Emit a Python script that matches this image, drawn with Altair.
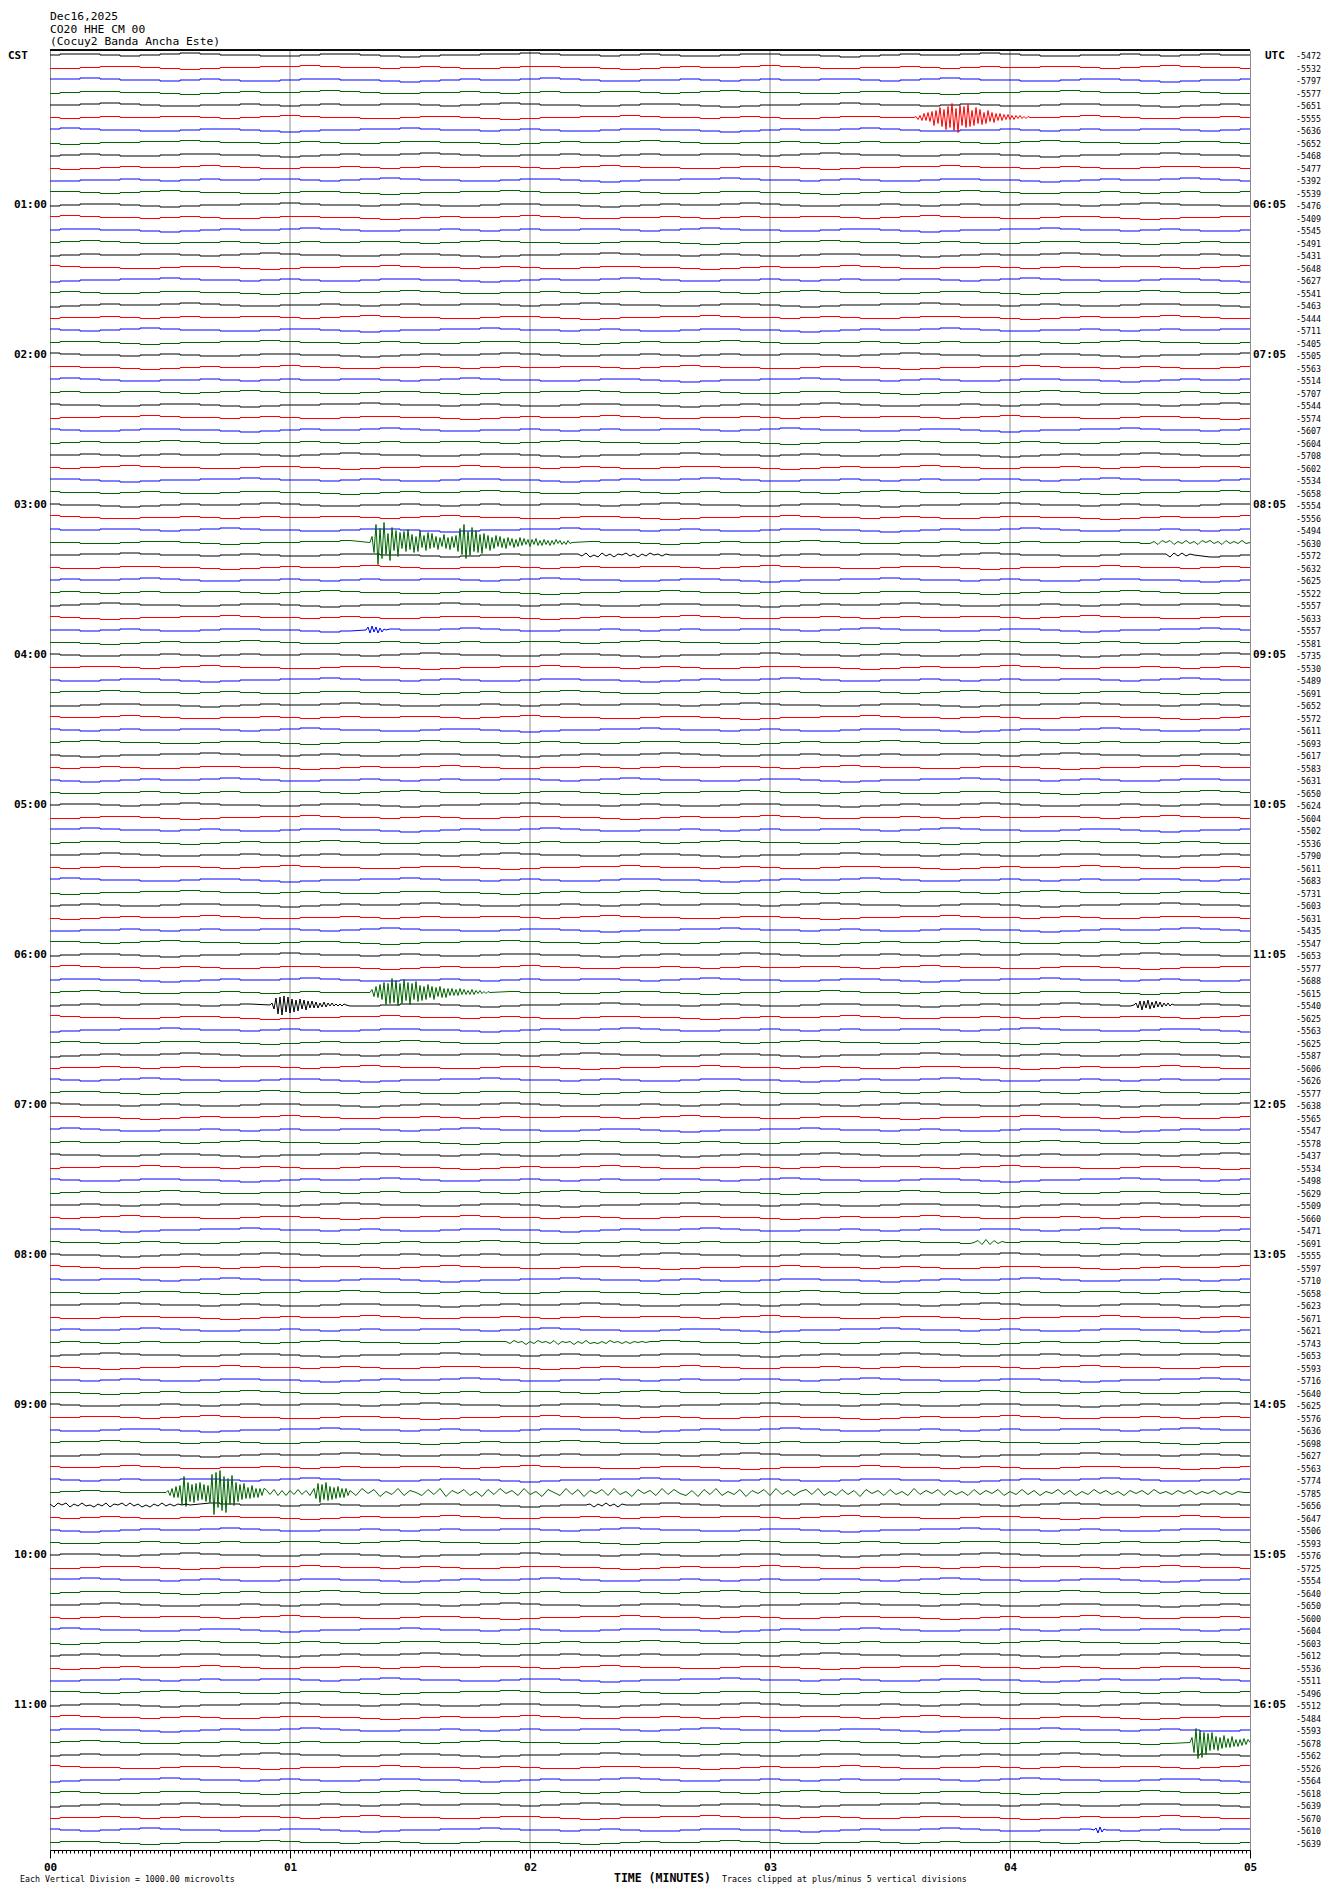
import altair as alt
import pandas as pd

# ---------------- data ----------------
header_lines = ["Dec16,2025", "CO20 HHE CM 00", "(Cocuy2 Banda Ancha Este)"]
cst_labels = ["01:00", "02:00", "03:00", "04:00", "05:00", "06:00",
              "07:00", "08:00", "09:00", "10:00", "11:00"]
utc_labels = ["06:05", "07:05", "08:05", "09:05", "10:05", "11:05",
              "12:05", "13:05", "14:05", "15:05", "16:05"]
offset_labels = [
    -5472, -5532, -5797, -5577, -5651, -5555, -5636, -5652, -5468, -5477, -5392, -5539,
    -5476, -5409, -5545, -5491, -5431, -5648, -5627, -5541, -5463, -5444, -5711, -5405,
    -5505, -5563, -5514, -5707, -5544, -5574, -5607, -5604, -5708, -5602, -5534, -5658,
    -5554, -5556, -5494, -5630, -5572, -5632, -5625, -5522, -5557, -5633, -5557, -5581,
    -5735, -5530, -5489, -5691, -5652, -5572, -5611, -5693, -5617, -5583, -5631, -5650,
    -5624, -5604, -5502, -5536, -5790, -5611, -5683, -5731, -5603, -5631, -5435, -5547,
    -5653, -5577, -5688, -5615, -5540, -5625, -5563, -5625, -5587, -5606, -5626, -5577,
    -5638, -5565, -5547, -5578, -5437, -5534, -5498, -5629, -5509, -5660, -5471, -5691,
    -5555, -5597, -5710, -5658, -5623, -5671, -5621, -5743, -5653, -5593, -5716, -5640,
    -5625, -5576, -5636, -5698, -5627, -5563, -5774, -5785, -5656, -5647, -5506, -5593,
    -5576, -5725, -5554, -5640, -5650, -5600, -5604, -5603, -5612, -5536, -5511, -5496,
    -5512, -5484, -5593, -5678, -5562, -5526, -5564, -5618, -5639, -5670, -5610, -5639,
]
trace_colors = ["#000000", "#ff0000", "#0000ff", "#006400"]

# quiet background wiggle (px, every 5 s)
bg_wiggle = [0, 1, 1, 0, -1, 0, 1, 2, 1, 0, 0, -1, -1, 0, 1, 1, 0, -1, -2, -1,
             0, 0, 1, 1, 2, 1, 0, 0, -1, 0, 1, 0, -1, -1, 0, 1, 1, 0, 0, -1,
             -2, -1, 0, 1, 0, 0, 1, 2, 1, 0, -1, -1, 0, 0, 1, 0, -1, 0, 1, 0]

# events: (row, start seconds, step seconds, amplitudes in px, + = up)
ev_row5 = [0, 1, -2, 2, -3, 4, -3, 5, -4, 6, -8, 7, -6, 10, -9, 8, -12, 11, -10, 14,
           -13, 9, -15, 12, -8, 11, -10, 13, -9, 7, -8, 10, -6, 8, -7, 5, -6, 7, -4, 5,
           -5, 4, -3, 4, -3, 3, -2, 3, -2, 2, -2, 2, -1, 2, -1, 1, -1, 1, 0]
ev_row39 = [0, 6, -10, 18, -22, 14, -16, 20, -12, 9, -18, 15, -8, 12, -14, 10, -6, 11, -9, 13,
            -7, 8, -10, 6, -9, 12, -5, 7, -8, 10, -6, 9, -5, 6, -7, 5, -4, 8, -6, 5, -7, 6, -5, 7,
            -9, 14, -12, 18, -16, 11, -13, 15, -9, 12, -10, 8, -11, 9,
            -6, 7, -8, 5, -6, 7, -4, 6, -5, 4, -6, 5, -3, 4, -5, 3, -4, 5, -3, 4, -2, 3, -4, 3,
            -2, 4, -3, 2, -3, 3, -2, 2, -3, 2, -2, 3, -1, 2, -2, 1, -2, 2, -1, 0]
ev_row39_late = [1, -2, 2, 0, 2, -2, 1, -1, 2, -1, 1, -2, 2, 0, 2, -1, 1, -2, 2, -1, 1, -1, 2, -1]
ev_row40 = [1, -1, 2, -2, 0, -2, 2, -1, 1, -2, 1, 0, 2, -1, 1, -2, 1, -1, 2, 0, 1, -1, 1, 0]
ev_row40_late = [1, -2, 2, -1, 2, -1, 1, 0]
ev_row46 = [0, 3, -3, 4, -2, 3, -3, 2, -2, 1, 0]
ev_row75 = [0, 3, -4, 6, -5, 8, -7, 10, -12, 9, -11, 14, -10, 12, -13, 9, -11, 13, -8, 10,
            -12, 9, -7, 11, -9, 7, -8, 6, -7, 8, -5, 6, -7, 5, -4, 6, -5, 4, -5, 4,
            -3, 4, -3, 3, -3, 4, -2, 3, -2, 2, -2, 3, -2, 2, -1, 2, -1, 1, -1, 1, 0]
ev_row76 = [0, 2, -4, 7, -9, 8, -10, 9, -7, 8, -8, 6, -7, 5, -6, 6, -4, 5, -5, 4,
            -3, 4, -3, 3, -3, 2, -2, 3, -2, 2, -1, 2, -1, 1, -1, 1, -1, 1, 0]
ev_row76_late = [0, 2, -3, 4, -5, 4, -3, 5, -4, 3, -3, 4, -2, 3, -2, 2, -1, 2, -1, 1, 0]
ev_row95 = [0, 2, -2, 3, -2, 2, -1, 1, 0]
ev_row103 = [1, -1, 2, 0, 1, -2, 1, -1, 2, 0, 1, -1, 2, -2, 1, 0, 1, -2, 1, -1,
             2, -1, 0, -1, 1, -1, 2, 0, 1, -1, 1, -1, 1, 0, 1, 0]
ev_row115_a = [0, 2, -3, 4, -5, 6, -5, 7, -12, 16, -14, 10, -9, 8, -10, 9, -8, 10, -7, 8,
               -9, 7, -10, 18, -22, 20, -15, 22, -18, 16, -20, 14, -12, 17, -13,
               10, -9, 8, -7, 9, -6, 5, -6, 7, -5, 4, -5, 4, -3, 4]
ev_row115_b = [3, -2, 3, -3, 2, -3, 2, -2, 3, -2, 2, -3]
ev_row115_c = [4, -6, 9, -10, 8, -7, 10, -8, 6, -7, 5, -6, 6, -5, 4, -5, 4, -3]
ev_row115_d = [2, -3, 4, -1, 3, -4, 1, -2, 4, -3, 2, 0, -3, 3, -2, 4, -4, 2, -1, 3,
               -3, 1, -4, 3, -2, 4, -1, 2, -3, 4, -2, 1, -4, 3, 0, -3, 4, -2, 3, -4,
               2, -1, 3, -3, 4, -2, 1, -4, 3, -1, 2, -3, 4, -2, 3, -1, -3, 2, -4, 3,
               -2, 4, -3, 1, -2, 3, -4, 2, -1, 3, -3, 4, -2, 2, -3, 1, 3, -2, 4, -3,
               1, -3, 3, -2, 2, -4, 3, -1, 2, -3, 3, -2, 1, -3, 4, -2, 2, -1, 3, -3,
               2, -2, 1, -3, 3, -2, 2, -1, 3, -3, 1, -2, 3, -2, 2, -3, 1, -1, 3, -2,
               2, -3, 1, -2, 3, -1, 2, -2, 1, -3, 2, -1, 2, -2, 3, -1, 1, -2, 2, -1,
               2, -2, 1, -1, 2, -2, 1, -2, 1, 0]
ev_row116 = [1, -2, 2, 0, 2, -2, 1, -1, 2, -1, 0, -2, 1, -1, 2, -2, 1, 0, 2, -1,
             2, -1, 1, -2, 0, -2, 1, -1, 2, -1, 1, -1, 1, 0, 1, 0]
ev_row116_late = [0, 1, -2, 1, -1, 2, -1, 1, -2, 1, 0]
ev_row135 = [0, 5, -10, 14, -16, 12, -15, 10, -12, 9, -8, 10, -7, 6, -8, 5, -6, 7, -5, 4,
             -5, 6, -4, 3, -4, 3, -3, 4, -2, 3]
ev_row142 = [0, 2, -3, 3, -2, 1, 0]

events = [
    (5, 216, 0.5, ev_row5),
    (39, 80, 0.5, ev_row39),
    (39, 276, 1.0, ev_row39_late),
    (40, 132, 1.0, ev_row40),
    (40, 279, 1.0, ev_row40_late),
    (46, 79, 0.5, ev_row46),
    (75, 80, 0.5, ev_row75),
    (76, 55, 0.5, ev_row76),
    (76, 271, 0.5, ev_row76_late),
    (95, 231, 1.0, ev_row95),
    (103, 114, 1.0, ev_row103),
    (115, 29, 0.5, ev_row115_a),
    (115, 54, 1.0, ev_row115_b),
    (115, 66, 0.5, ev_row115_c),
    (115, 75, 1.5, ev_row115_d),
    (116, 0, 1.0, ev_row116),
    (116, 134, 1.0, ev_row116_late),
    (135, 285, 0.5, ev_row135),
    (142, 261, 0.5, ev_row142),
]

N_ROWS = len(offset_labels)
ROW_PX = 12.5
W, H = 1200, 1800

# ---------------- build trace tables ----------------
bg_recs, ev_recs = [], []
for r in range(N_ROWS):
    evs = [e for e in events if e[0] == r]
    windows = [(s, s + st * (len(v) - 1)) for _, s, st, v in evs]
    pts = []
    for k in range(61):
        t = 5 * k
        if any(a - 0.01 <= t <= b + 0.01 for a, b in windows):
            continue
        pts.append((t, bg_wiggle[(k + 11 * r) % len(bg_wiggle)], False))
    for _, s, st, v in evs:
        for i, a in enumerate(v):
            pts.append((s + st * i, a, True))
    pts.sort(key=lambda p: p[0])
    # split into runs; event runs borrow neighbouring quiet points to stay joined
    seg = 0
    n = len(pts)
    j = 0
    while j < n:
        flag = pts[j][2]
        k = j
        while k < n and pts[k][2] == flag:
            k += 1
        if flag:
            run = pts[max(j - 1, 0):min(k + 1, n)]
            target = ev_recs
        else:
            run = pts[j:k]
            target = bg_recs
        for i, (t, a, _) in enumerate(run):
            target.append({"key": f"{r}_{seg}", "t": t, "y": r - a / ROW_PX, "c": r % 4, "i": i})
        seg += 1
        j = k

bg_df = pd.DataFrame(bg_recs)
ev_df = pd.DataFrame(ev_recs)

ydom = [N_ROWS - 0.4, -0.4]
xscale = alt.Scale(domain=[0, 300], nice=False, zero=False)
yscale = alt.Scale(domain=ydom, nice=False, zero=False)
cscale = alt.Scale(domain=[0, 1, 2, 3], range=trace_colors)
MONO = "DejaVu Sans Mono"

tick_vals = list(range(0, 301))
x_axis = alt.Axis(
    values=tick_vals,
    labelExpr="datum.value % 60 == 0 ? '0' + (datum.value / 60) : ''",
    labelOverlap=False, labelFlush=False,
    tickSize={"condition": [{"test": "datum.value % 60 == 0", "value": 8},
                            {"test": "datum.value % 10 == 0", "value": 6}],
              "value": 3},
    tickColor="#000000", domainColor="#000000", tickWidth=1,
    labelFont=MONO, labelFontSize=11, labelFontWeight="bold", labelColor="#000000",
    labelPadding=3, grid=False, title=None,
)

grid_df = pd.DataFrame({"t": [60, 120, 180, 240]})
grid = alt.Chart(grid_df).mark_rule(color="#8c8c8c", strokeWidth=1).encode(
    x=alt.X("t:Q", scale=xscale, axis=x_axis))

bg_lines = alt.Chart(bg_df).mark_line(strokeWidth=1, interpolate="step", clip=True).encode(
    x=alt.X("t:Q", scale=xscale, axis=x_axis),
    y=alt.Y("y:Q", scale=yscale, axis=None),
    detail="key:N",
    order="i:Q",
    color=alt.Color("c:N", scale=cscale, legend=None),
)
ev_lines = alt.Chart(ev_df).mark_line(strokeWidth=1, interpolate="linear", clip=True).encode(
    x=alt.X("t:Q", scale=xscale, axis=x_axis),
    y=alt.Y("y:Q", scale=yscale, axis=None),
    detail="key:N",
    order="i:Q",
    color=alt.Color("c:N", scale=cscale, legend=None),
)

top_rule = alt.Chart(grid_df).mark_rule(color="#000000", strokeWidth=1).encode(
    y=alt.value(0), x=alt.value(0), x2=alt.value(W))

hdr_df = pd.DataFrame({"txt": header_lines, "yy": [-30, -17.5, -5]})
header = alt.Chart(hdr_df).mark_text(
    font=MONO, fontSize=11.3, align="left", baseline="alphabetic", color="#000000"
).encode(x=alt.value(0), y=alt.Y("yy:Q", scale=None), text="txt:N")

cst_df = pd.DataFrame({"txt": cst_labels, "row": [12 * (i + 1) for i in range(len(cst_labels))]})
cst = alt.Chart(cst_df).mark_text(
    font=MONO, fontSize=11, fontWeight="bold", align="right", baseline="middle", color="#000000"
).encode(x=alt.value(-3), y=alt.Y("row:Q", scale=yscale, axis=None), text="txt:N")

utc_df = pd.DataFrame({"txt": utc_labels, "row": [12 * (i + 1) for i in range(len(utc_labels))]})
utc = alt.Chart(utc_df).mark_text(
    font=MONO, fontSize=11, fontWeight="bold", align="left", baseline="middle", color="#000000"
).encode(x=alt.value(W + 3), y=alt.Y("row:Q", scale=yscale, axis=None), text="txt:N")

corner_df = pd.DataFrame({"txt": ["CST", "UTC"], "xx": [-42, W + 15], "row": [0, 0]})
corner = alt.Chart(corner_df).mark_text(
    font=MONO, fontSize=11, fontWeight="bold", align="left", baseline="middle", color="#000000", dy=1
).encode(x=alt.X("xx:Q", scale=None), y=alt.Y("row:Q", scale=yscale, axis=None), text="txt:N")

off_df = pd.DataFrame({"txt": [str(v) for v in offset_labels], "row": list(range(N_ROWS))})
offs = alt.Chart(off_df).mark_text(
    font=MONO, fontSize=8.3, align="left", baseline="middle", color="#000000", dy=2
).encode(x=alt.value(W + 46), y=alt.Y("row:Q", scale=yscale, axis=None), text="txt:N")

foot_small_df = pd.DataFrame({
    "txt": ["Each Vertical Division = 1000.00 microvolts",
            "Traces clipped at plus/minus 5 vertical divisions"],
    "xx": [-30, 672],
})
foot_big_df = pd.DataFrame({"txt": ["TIME (MINUTES)"], "xx": [564]})
foot_small = alt.Chart(foot_small_df).mark_text(
    font=MONO, fontSize=8.3, align="left", baseline="alphabetic", color="#000000"
).encode(x=alt.X("xx:Q", scale=None), y=alt.value(H + 32), text="txt:N")
foot_big = alt.Chart(foot_big_df).mark_text(
    font=MONO, fontSize=11.5, fontWeight="bold", align="left", baseline="alphabetic", color="#000000"
).encode(x=alt.X("xx:Q", scale=None), y=alt.value(H + 32), text="txt:N")

chart = alt.layer(
    grid, bg_lines, ev_lines, top_rule, header, cst, utc, corner, offs, foot_small, foot_big
).properties(
    width=W, height=H,
    autosize=alt.AutoSizeParams(type="none"),
    padding={"left": 42, "top": 42, "right": 72, "bottom": 36},
    background="#ffffff",
).configure_view(stroke="#8c8c8c", strokeWidth=1)

chart.save("out.html", embed_options={"renderer": "svg", "actions": False})
